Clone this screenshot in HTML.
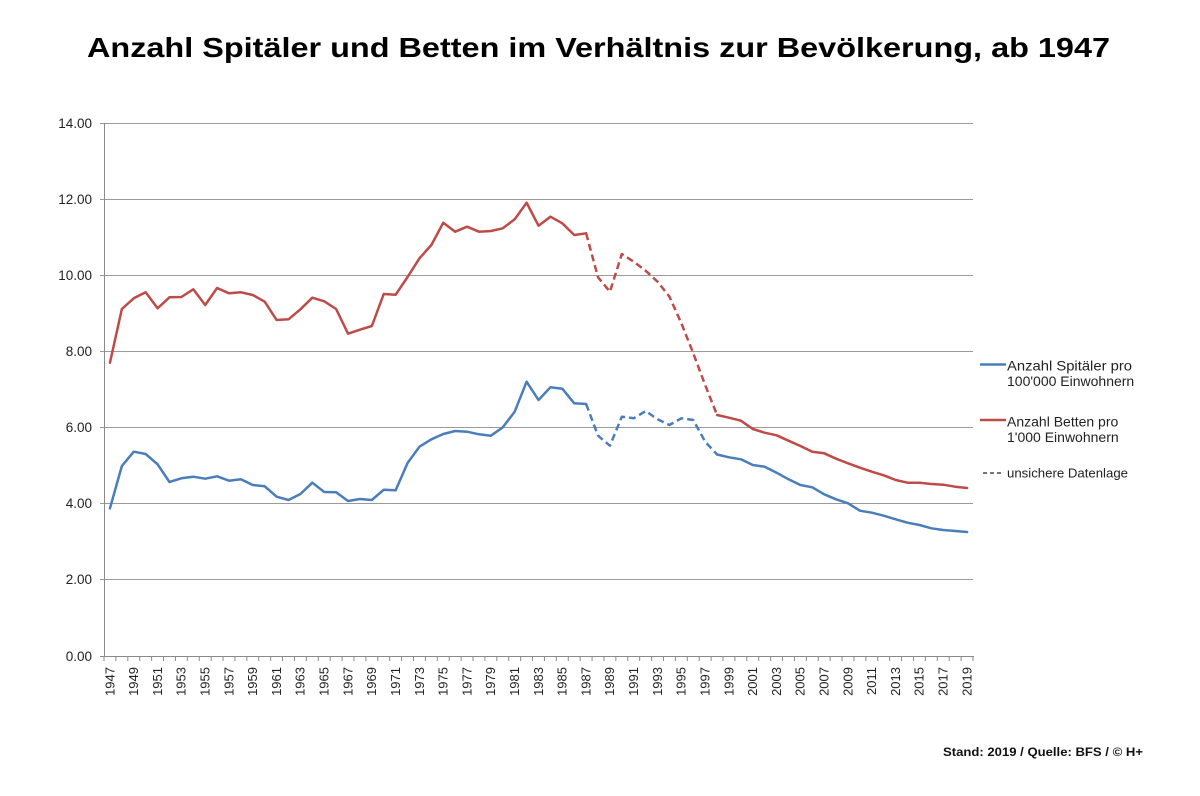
<!DOCTYPE html>
<html><head><meta charset="utf-8"><style>
html,body{margin:0;padding:0;background:#fff;}
svg{display:block;}
text{font-family:"Liberation Sans",sans-serif;}
</style></head><body>
<svg width="1200" height="796" viewBox="0 0 1200 796" xmlns="http://www.w3.org/2000/svg">
<rect width="1200" height="796" fill="#fff"/>
<text x="87" y="57" font-size="28" font-weight="bold" fill="#000" textLength="1023" lengthAdjust="spacingAndGlyphs">Anzahl Spitäler und Betten im Verhältnis zur Bevölkerung, ab 1947</text>

<!-- gridlines -->
<g stroke="#9a9a9a" stroke-width="1">
<line x1="100" y1="123.5" x2="973" y2="123.5"/>
<line x1="100" y1="199.5" x2="973" y2="199.5"/>
<line x1="100" y1="275.5" x2="973" y2="275.5"/>
<line x1="100" y1="351.5" x2="973" y2="351.5"/>
<line x1="100" y1="427.5" x2="973" y2="427.5"/>
<line x1="100" y1="503.5" x2="973" y2="503.5"/>
<line x1="100" y1="579.5" x2="973" y2="579.5"/>
</g>
<g stroke="#8a8a8a" stroke-width="1">
<line x1="104.5" y1="123" x2="104.5" y2="656"/>
<line x1="100" y1="656.5" x2="974" y2="656.5"/>
<line x1="103.5" y1="658.5" x2="975" y2="658.5" stroke-width="5" stroke-dasharray="1 10.904"/>
</g>

<!-- y labels -->
<g font-size="13.5" fill="#222" text-anchor="end">
<text x="92" y="128">14.00</text>
<text x="92" y="204">12.00</text>
<text x="92" y="280">10.00</text>
<text x="92" y="356">8.00</text>
<text x="92" y="432">6.00</text>
<text x="92" y="508">4.00</text>
<text x="92" y="584">2.00</text>
<text x="92" y="661">0.00</text>
</g>

<!-- x labels -->
<g font-size="13" fill="#222" text-anchor="end">
<text transform="translate(114.3,667) rotate(-90)">1947</text>
<text transform="translate(138.1,667) rotate(-90)">1949</text>
<text transform="translate(161.9,667) rotate(-90)">1951</text>
<text transform="translate(185.7,667) rotate(-90)">1953</text>
<text transform="translate(209.5,667) rotate(-90)">1955</text>
<text transform="translate(233.3,667) rotate(-90)">1957</text>
<text transform="translate(257.1,667) rotate(-90)">1959</text>
<text transform="translate(280.9,667) rotate(-90)">1961</text>
<text transform="translate(304.7,667) rotate(-90)">1963</text>
<text transform="translate(328.5,667) rotate(-90)">1965</text>
<text transform="translate(352.4,667) rotate(-90)">1967</text>
<text transform="translate(376.2,667) rotate(-90)">1969</text>
<text transform="translate(400.0,667) rotate(-90)">1971</text>
<text transform="translate(423.8,667) rotate(-90)">1973</text>
<text transform="translate(447.6,667) rotate(-90)">1975</text>
<text transform="translate(471.4,667) rotate(-90)">1977</text>
<text transform="translate(495.2,667) rotate(-90)">1979</text>
<text transform="translate(519.0,667) rotate(-90)">1981</text>
<text transform="translate(542.8,667) rotate(-90)">1983</text>
<text transform="translate(566.6,667) rotate(-90)">1985</text>
<text transform="translate(590.4,667) rotate(-90)">1987</text>
<text transform="translate(614.2,667) rotate(-90)">1989</text>
<text transform="translate(638.0,667) rotate(-90)">1991</text>
<text transform="translate(661.9,667) rotate(-90)">1993</text>
<text transform="translate(685.7,667) rotate(-90)">1995</text>
<text transform="translate(709.5,667) rotate(-90)">1997</text>
<text transform="translate(733.3,667) rotate(-90)">1999</text>
<text transform="translate(757.1,667) rotate(-90)">2001</text>
<text transform="translate(780.9,667) rotate(-90)">2003</text>
<text transform="translate(804.7,667) rotate(-90)">2005</text>
<text transform="translate(828.5,667) rotate(-90)">2007</text>
<text transform="translate(852.3,667) rotate(-90)">2009</text>
<text transform="translate(876.1,667) rotate(-90)">2011</text>
<text transform="translate(899.9,667) rotate(-90)">2013</text>
<text transform="translate(923.7,667) rotate(-90)">2015</text>
<text transform="translate(947.6,667) rotate(-90)">2017</text>
<text transform="translate(971.4,667) rotate(-90)">2019</text>
</g>

<!-- red series -->
<g fill="none" stroke="#be4b48" stroke-width="2.5" stroke-linejoin="round" stroke-linecap="round">
<polyline points="109.95,362.7 121.86,309 133.76,298.3 145.67,292.3 157.57,308.3 169.47,297.3 181.38,297 193.28,289.3 205.19,305 217.09,288 229.0,293.3 240.9,292.3 252.8,295 264.71,301.7 276.61,320 288.52,319.3 300.42,309.3 312.33,297.7 324.23,301.3 336.13,309 348.04,333.7 359.94,329.7 371.85,326 383.75,294 395.66,294.7 407.56,277 419.47,258.3 431.37,245 443.27,222.7 455.18,231.7 467.08,226.7 478.99,231.7 490.89,231 502.8,228.3 514.7,219.3 526.6,202.7 538.51,225.7 550.41,216.7 562.32,223.3 574.22,235 586.13,233.3"/>
<polyline stroke-dasharray="7 4" stroke-linecap="butt" points="586.13,233.3 598.03,277.3 609.93,291.7 621.84,254 633.74,261.7 645.65,270.7 657.55,281.7 669.46,296.7 681.36,323.3 693.27,353.3 705.17,385 717.07,415"/>
<polyline points="717.07,415 728.98,417.7 740.88,420.7 752.79,429 764.69,432.7 776.6,435.3 788.5,440.7 800.4,446 812.31,451.7 824.21,453.3 836.12,458.7 848.02,463.3 859.93,467.7 871.83,471.7 883.74,475.3 895.64,480 907.54,482.7 919.45,482.7 931.35,484 943.26,484.7 955.16,486.7 967.07,488"/>
</g>

<!-- blue series -->
<g fill="none" stroke="#4a7ebb" stroke-width="2.5" stroke-linejoin="round" stroke-linecap="round">
<polyline points="109.95,508.3 121.86,466 133.76,451.7 145.67,454 157.57,464.3 169.47,482 181.38,478.3 193.28,476.7 205.19,478.7 217.09,476.3 229.0,480.7 240.9,479.3 252.8,485 264.71,486.3 276.61,496.7 288.52,500 300.42,494 312.33,482.7 324.23,492 336.13,492.3 348.04,501 359.94,499 371.85,500 383.75,489.7 395.66,490.3 407.56,463 419.47,446.7 431.37,439.3 443.27,434 455.18,431 467.08,431.7 478.99,434.3 490.89,435.7 502.8,427.3 514.7,411.7 526.6,381.7 538.51,400 550.41,387.3 562.32,388.7 574.22,403.3 586.13,404"/>
<polyline stroke-dasharray="7 4" stroke-linecap="butt" points="586.13,404 598.03,435.7 609.93,445.7 621.84,416.7 633.74,418.3 645.65,411 657.55,419.3 669.46,425 681.36,418.3 693.27,420 705.17,441.7 717.07,454.5"/>
<polyline points="717.07,454.5 728.98,457.3 740.88,459.3 752.79,465 764.69,466.7 776.6,472.7 788.5,479.3 800.4,485 812.31,487.3 824.21,494.3 836.12,499.3 848.02,503.3 859.93,510.7 871.83,512.7 883.74,515.7 895.64,519.3 907.54,522.7 919.45,525 931.35,528.3 943.26,530 955.16,531 967.07,532"/>
</g>

<!-- legend -->
<line x1="980" y1="364.5" x2="1006" y2="364.5" stroke="#4a7ebb" stroke-width="2.5"/>
<line x1="980" y1="420" x2="1006" y2="420" stroke="#be4b48" stroke-width="2.5"/>
<line x1="983" y1="473" x2="1003" y2="473" stroke="#222" stroke-width="1.3" stroke-dasharray="4 3"/>
<g font-size="14" fill="#222">
<text x="1007" y="370.5" textLength="125" lengthAdjust="spacingAndGlyphs">Anzahl Spitäler pro</text>
<text x="1007" y="386">100'000 Einwohnern</text>
<text x="1007" y="426.5">Anzahl Betten pro</text>
<text x="1007" y="442">1'000 Einwohnern</text>
<text x="1007" y="477.5" font-size="13" textLength="121" lengthAdjust="spacingAndGlyphs">unsichere Datenlage</text>
</g>

<text x="943" y="756" font-size="12" font-weight="bold" fill="#111" textLength="200" lengthAdjust="spacingAndGlyphs">Stand: 2019 / Quelle: BFS / © H+</text>
</svg>
</body></html>
